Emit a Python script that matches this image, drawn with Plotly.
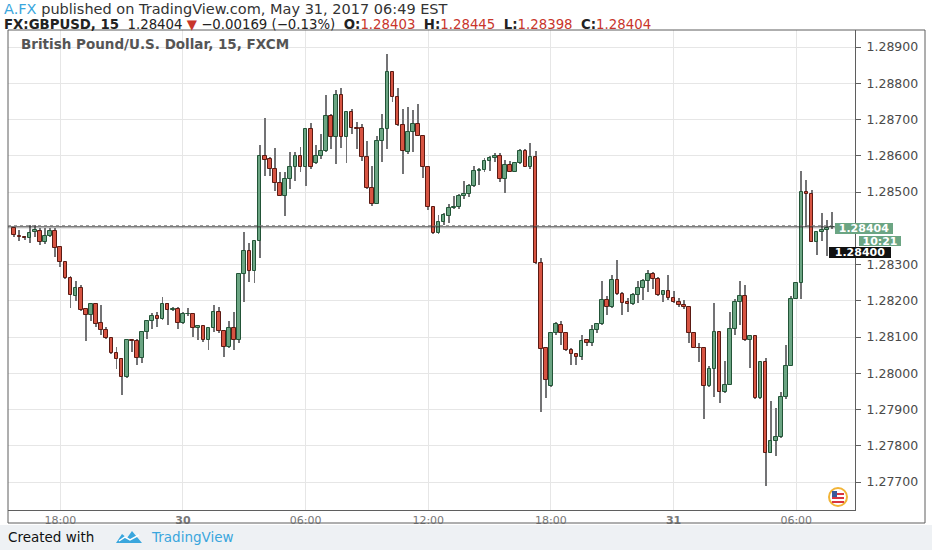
import pandas as pd
import plotly.graph_objects as go

# 15-minute GBPUSD candles, first bar 2017-05-29 15:45
start = "2017-05-29 15:45"

opens = [
    1.28400, 1.28379, 1.28376, 1.28372, 1.28391, 1.28393, 1.28361, 1.28378, 1.28393, 1.28348,
    1.28307, 1.28262, 1.28214, 1.28234, 1.28177, 1.28160, 1.28192, 1.28138, 1.28120, 1.28098,
    1.28055, 1.28040, 1.27989, 1.28092, 1.28090, 1.28041, 1.28113, 1.28143, 1.28158, 1.28149,
    1.28192, 1.28175, 1.28178, 1.28138, 1.28164, 1.28165, 1.28124, 1.28130, 1.28092, 1.28124,
    1.28170, 1.28118, 1.28074, 1.28126, 1.28092, 1.28275, 1.28338, 1.28281, 1.28364, 1.28599,
    1.28591, 1.28563, 1.28526, 1.28489, 1.28536, 1.28568, 1.28600, 1.28568, 1.28673, 1.28580,
    1.28600, 1.28613, 1.28709, 1.28652, 1.28769, 1.28652, 1.28721, 1.28677, 1.28677, 1.28596,
    1.28510, 1.28466, 1.28642, 1.28673, 1.28830, 1.28763, 1.28686, 1.28610, 1.28665, 1.28689,
    1.28656, 1.28568, 1.28459, 1.28387, 1.28417, 1.28435, 1.28456, 1.28458, 1.28489, 1.28496,
    1.28517, 1.28558, 1.28560, 1.28586, 1.28595, 1.28600, 1.28537, 1.28574, 1.28556, 1.28580,
    1.28614, 1.28570, 1.28598, 1.28304, 1.28070, 1.27966, 1.28111, 1.28133, 1.28110, 1.28064,
    1.28053, 1.28044, 1.28092, 1.28084, 1.28119, 1.28136, 1.28203, 1.28182, 1.28258, 1.28219,
    1.28198, 1.28191, 1.28217, 1.28235, 1.28254, 1.28275, 1.28260, 1.28215, 1.28226, 1.28207,
    1.28198, 1.28189, 1.28182, 1.28110, 1.28071, 1.28071, 1.27964, 1.28013, 1.28113, 1.27948,
    1.27968, 1.28121, 1.28198, 1.28212, 1.28092, 1.28103, 1.27931, 1.28031, 1.27781, 1.27812,
    1.27823, 1.27934, 1.28020, 1.28206, 1.28248, 1.28500, 1.28494, 1.28363, 1.28389, 1.28396,
    1.28403,
]
highs = [
    1.28402, 1.28394, 1.28380, 1.28409, 1.28409, 1.28400, 1.28402, 1.28402, 1.28402, 1.28350,
    1.28310, 1.28268, 1.28256, 1.28243, 1.28179, 1.28194, 1.28193, 1.28188, 1.28127, 1.28100,
    1.28074, 1.28042, 1.28094, 1.28094, 1.28094, 1.28115, 1.28145, 1.28167, 1.28170, 1.28210,
    1.28193, 1.28184, 1.28184, 1.28168, 1.28180, 1.28166, 1.28134, 1.28134, 1.28129, 1.28189,
    1.28184, 1.28120, 1.28145, 1.28168, 1.28276, 1.28390, 1.28360, 1.28367, 1.28630, 1.28703,
    1.28596, 1.28621, 1.28554, 1.28554, 1.28610, 1.28610, 1.28624, 1.28675, 1.28691, 1.28630,
    1.28661, 1.28768, 1.28716, 1.28781, 1.28788, 1.28723, 1.28730, 1.28693, 1.28689, 1.28640,
    1.28573, 1.28656, 1.28714, 1.28881, 1.28832, 1.28786, 1.28730, 1.28735, 1.28726, 1.28742,
    1.28658, 1.28573, 1.28461, 1.28438, 1.28443, 1.28466, 1.28489, 1.28494, 1.28531, 1.28521,
    1.28572, 1.28565, 1.28593, 1.28600, 1.28607, 1.28609, 1.28589, 1.28586, 1.28581, 1.28620,
    1.28619, 1.28635, 1.28614, 1.28318, 1.28072, 1.28114, 1.28142, 1.28143, 1.28112, 1.28071,
    1.28055, 1.28106, 1.28094, 1.28133, 1.28140, 1.28256, 1.28212, 1.28272, 1.28312, 1.28223,
    1.28207, 1.28221, 1.28256, 1.28260, 1.28284, 1.28279, 1.28265, 1.28230, 1.28272, 1.28226,
    1.28207, 1.28201, 1.28184, 1.28112, 1.28084, 1.28073, 1.28020, 1.28195, 1.28115, 1.28034,
    1.28168, 1.28205, 1.28254, 1.28244, 1.28105, 1.28105, 1.28034, 1.28041, 1.27925, 1.27905,
    1.27948, 1.28078, 1.28213, 1.28250, 1.28557, 1.28532, 1.28505, 1.28391, 1.28443, 1.28424,
    1.28445,
]
lows = [
    1.28376, 1.28365, 1.28367, 1.28360, 1.28376, 1.28354, 1.28358, 1.28376, 1.28320, 1.28293,
    1.28259, 1.28179, 1.28199, 1.28171, 1.28088, 1.28144, 1.28129, 1.28105, 1.28096, 1.28053,
    1.28011, 1.27940, 1.27987, 1.28060, 1.28023, 1.28029, 1.28094, 1.28122, 1.28129, 1.28146,
    1.28134, 1.28173, 1.28122, 1.28136, 1.28157, 1.28101, 1.28092, 1.28087, 1.28063, 1.28115,
    1.28112, 1.28044, 1.28069, 1.28063, 1.28083, 1.28198, 1.28253, 1.28250, 1.28318, 1.28545,
    1.28545, 1.28503, 1.28489, 1.28433, 1.28508, 1.28531, 1.28554, 1.28517, 1.28563, 1.28577,
    1.28591, 1.28611, 1.28619, 1.28577, 1.28621, 1.28580, 1.28661, 1.28619, 1.28587, 1.28508,
    1.28461, 1.28466, 1.28582, 1.28619, 1.28749, 1.28682, 1.28549, 1.28605, 1.28610, 1.28656,
    1.28540, 1.28450, 1.28385, 1.28385, 1.28410, 1.28415, 1.28454, 1.28452, 1.28481, 1.28487,
    1.28515, 1.28519, 1.28554, 1.28558, 1.28582, 1.28528, 1.28498, 1.28554, 1.28554, 1.28577,
    1.28568, 1.28563, 1.28302, 1.27892, 1.27933, 1.27961, 1.28107, 1.28078, 1.28062, 1.28022,
    1.28022, 1.28036, 1.28075, 1.28075, 1.28112, 1.28133, 1.28161, 1.28180, 1.28217, 1.28161,
    1.28170, 1.28189, 1.28195, 1.28203, 1.28223, 1.28232, 1.28212, 1.28198, 1.28203, 1.28195,
    1.28184, 1.28177, 1.28084, 1.28069, 1.28031, 1.27874, 1.27962, 1.27934, 1.27918, 1.27946,
    1.27967, 1.28106, 1.28133, 1.28090, 1.28016, 1.27930, 1.27930, 1.27689, 1.27779, 1.27772,
    1.27821, 1.27930, 1.28020, 1.28204, 1.28204, 1.28403, 1.28361, 1.28326, 1.28366, 1.28324,
    1.28398,
]
closes = [
    1.28382, 1.28376, 1.28372, 1.28388, 1.28396, 1.28361, 1.28378, 1.28393, 1.28347, 1.28308,
    1.28264, 1.28217, 1.28234, 1.28175, 1.28160, 1.28192, 1.28136, 1.28120, 1.28098, 1.28055,
    1.28039, 1.27989, 1.28092, 1.28090, 1.28041, 1.28113, 1.28143, 1.28158, 1.28149, 1.28192,
    1.28175, 1.28178, 1.28138, 1.28164, 1.28165, 1.28124, 1.28130, 1.28092, 1.28124, 1.28170,
    1.28118, 1.28074, 1.28126, 1.28092, 1.28275, 1.28338, 1.28281, 1.28364, 1.28600, 1.28589,
    1.28563, 1.28526, 1.28489, 1.28536, 1.28568, 1.28600, 1.28568, 1.28673, 1.28568, 1.28600,
    1.28613, 1.28709, 1.28652, 1.28769, 1.28652, 1.28721, 1.28677, 1.28673, 1.28596, 1.28510,
    1.28466, 1.28642, 1.28673, 1.28830, 1.28763, 1.28686, 1.28613, 1.28665, 1.28689, 1.28656,
    1.28568, 1.28459, 1.28387, 1.28417, 1.28438, 1.28456, 1.28458, 1.28489, 1.28496, 1.28517,
    1.28558, 1.28560, 1.28586, 1.28595, 1.28600, 1.28537, 1.28574, 1.28556, 1.28580, 1.28614,
    1.28570, 1.28598, 1.28304, 1.28068, 1.27981, 1.28111, 1.28135, 1.28110, 1.28064, 1.28053,
    1.28044, 1.28090, 1.28084, 1.28119, 1.28136, 1.28203, 1.28182, 1.28258, 1.28219, 1.28195,
    1.28191, 1.28217, 1.28235, 1.28254, 1.28275, 1.28260, 1.28215, 1.28226, 1.28207, 1.28198,
    1.28189, 1.28182, 1.28110, 1.28071, 1.28070, 1.27964, 1.28013, 1.28113, 1.27948, 1.27968,
    1.28121, 1.28198, 1.28212, 1.28092, 1.28103, 1.27931, 1.28031, 1.27781, 1.27812, 1.27823,
    1.27934, 1.28020, 1.28206, 1.28248, 1.28500, 1.28494, 1.28363, 1.28389, 1.28396, 1.28400,
    1.28404,
]

time_ticks = ["2017-05-29 18:00", "2017-05-30 00:00", "2017-05-30 06:00", "2017-05-30 12:00",
              "2017-05-30 18:00", "2017-05-31 00:00", "2017-05-31 06:00"]
time_labels = ["18:00", "<b>30</b>", "06:00", "12:00", "18:00", "<b>31</b>", "06:00"]
price_ticks = [1.277, 1.278, 1.279, 1.280, 1.281, 1.282, 1.283, 1.284, 1.285, 1.286, 1.287, 1.288, 1.289]

last_price = 1.28404

times = pd.date_range(start, periods=len(opens), freq="15min")

UP_FILL, UP_LINE = "#6ba583", "#225437"
DN_FILL, DN_LINE = "#d75442", "#5b1a13"
WICK = "#737375"

# plot area in pixels (932x550 page)
L, R, T, B = 8, 855, 30, 510


def px(x):
    return (x - L) / (R - L)


def py(y):
    return (B - y) / (B - T)


up = [c >= o for o, c in zip(opens, closes)]
body_base = [min(o, c) for o, c in zip(opens, closes)]
body_h = [max(abs(c - o), 0.000008) for o, c in zip(opens, closes)]
wick_h = [h - l for h, l in zip(highs, lows)]

fig = go.Figure()

# wicks
fig.add_trace(go.Bar(
    x=times, y=wick_h, base=lows, width=170000,
    marker=dict(color=WICK, line=dict(width=0)),
    hoverinfo="skip", showlegend=False,
))
# bodies
fig.add_trace(go.Bar(
    x=times, y=body_h, base=body_base, width=640000,
    marker=dict(color=[UP_FILL if u else DN_FILL for u in up],
                line=dict(color=[UP_LINE if u else DN_LINE for u in up], width=1)),
    customdata=list(zip(opens, highs, lows, closes)),
    hovertemplate="O %{customdata[0]:.5f}<br>H %{customdata[1]:.5f}<br>"
                  "L %{customdata[2]:.5f}<br>C %{customdata[3]:.5f}<extra></extra>",
    showlegend=False,
))

x_left = pd.Timestamp(start) - pd.Timedelta(minutes=18.5)
x_right = pd.Timestamp(start) + pd.Timedelta(minutes=15 * 164.5)

red = "#c8352b"
header2 = (
    "<b>FX:GBPUSD, 15</b>  1.28404 <span style='color:%s'>▼</span> −0.00169 (−0.13%%)  "
    "<b>O:</b><span style='color:%s'>1.28403</span>  <b>H:</b><span style='color:%s'>1.28445</span>  "
    "<b>L:</b><span style='color:%s'>1.28398</span>  <b>C:</b><span style='color:%s'>1.28404</span>"
) % (red, red, red, red, red)

tag = dict(xref="paper", yref="paper", showarrow=False, borderwidth=0, borderpad=1,
           font=dict(size=11, color="white"))

annotations = [
    dict(x=px(2), y=py(9), xref="paper", yref="paper", xanchor="left", yanchor="middle",
         showarrow=False, font=dict(size=14.5, color="#333"),
         text="<span style='color:#3aa6dd'>A.FX</span> published on TradingView.com, May 31, 2017 06:49 EST"),
    dict(x=px(2), y=py(24), xref="paper", yref="paper", xanchor="left", yanchor="middle",
         showarrow=False, font=dict(size=13.3, color="#222"), text=header2),
    dict(x=px(19), y=py(44), xref="paper", yref="paper", xanchor="left", yanchor="middle",
         showarrow=False, font=dict(size=13.5, color="#555"),
         text="<b>British Pound/U.S. Dollar, 15, FXCM</b>"),
    # price scale tags
    dict(tag, x=px(893), y=py(228.5), text="<b>1.28404</b>", bgcolor=UP_FILL, width=56, height=9),
    dict(tag, x=px(901), y=py(241), text="<b>10:21</b>", bgcolor=UP_FILL, width=40, height=8),
    dict(tag, x=px(891), y=py(252), text="<b>1.28400</b>", bgcolor="#111111", width=60, height=9),
    # footer
    dict(x=px(6), y=py(537), xref="paper", yref="paper", xanchor="left", yanchor="middle",
         showarrow=False, font=dict(size=13.5, color="#111"), text="Created with"),
    dict(x=px(149), y=py(537), xref="paper", yref="paper", xanchor="left", yanchor="middle",
         showarrow=False, font=dict(size=13.5, color="#3aa6dd"), text="TradingView"),
]


def path_of(points):
    return "M " + " L ".join("%f,%f" % (px(a), py(b)) for a, b in points) + " Z"


shapes = [
    # light footer band
    dict(type="rect", xref="paper", yref="paper", x0=px(0), x1=px(932), y0=py(550), y1=py(525),
         fillcolor="#eef1f4", line=dict(width=0), layer="below"),
    # outer chart frame
    dict(type="rect", xref="paper", yref="paper", x0=px(8), x1=px(925), y0=py(523), y1=py(30),
         line=dict(color="#5f5f5f", width=1)),
    # last price line
    dict(type="line", xref="paper", yref="y", x0=0, x1=1, y0=last_price, y1=last_price,
         line=dict(color="#333", width=1)),
    dict(type="line", xref="paper", yref="y", x0=0, x1=1, y0=last_price + 0.00003, y1=last_price + 0.00003,
         line=dict(color="#777", width=1, dash="dot")),
    # logo
    dict(type="path", xref="paper", yref="paper",
         path=path_of([(116, 543), (122, 534), (127, 538), (132, 531), (142, 543)]),
         fillcolor="#3aa6dd", line=dict(width=0)),
    dict(type="path", xref="paper", yref="paper",
         path="M %f,%f L %f,%f L %f,%f L %f,%f" % (px(119), py(541), px(125), py(537), px(130), py(540), px(139), py(535)),
         line=dict(color="white", width=1.5)),
    # flag badge
    dict(type="circle", xref="paper", yref="paper", x0=px(829), x1=px(847), y0=py(506), y1=py(488),
         fillcolor="white", line=dict(color="#f2b437", width=2)),
]
for yy in (494, 498, 502):
    shapes.append(dict(type="line", xref="paper", yref="paper", x0=px(832), x1=px(844), y0=py(yy), y1=py(yy),
                       line=dict(color="#d9363e", width=2)))
shapes.append(dict(type="rect", xref="paper", yref="paper", x0=px(832), x1=px(837), y0=py(497), y1=py(491),
                   fillcolor="#3c5a9a", line=dict(width=0)))

fig.update_layout(
    width=932, height=550,
    margin=dict(l=L, r=932 - R, t=T, b=550 - B),
    paper_bgcolor="white", plot_bgcolor="white",
    barmode="overlay", bargap=0,
    font=dict(family="DejaVu Sans, Verdana, sans-serif"),
    showlegend=False,
    annotations=annotations,
    shapes=shapes,
    xaxis=dict(
        type="date", range=[x_left, x_right],
        tickvals=time_ticks, ticktext=time_labels,
        showgrid=True, gridcolor="#e6e6e6", gridwidth=1,
        showline=True, linecolor="#5f5f5f", linewidth=1,
        ticks="", tickfont=dict(size=11, color="#777"),
        zeroline=False, fixedrange=True,
    ),
    yaxis=dict(
        side="right", range=[1.27623, 1.28947],
        tickvals=price_ticks,
        # the 1.28400 label sits under the last-price tag
        ticktext=["" if abs(v - 1.284) < 1e-9 else "%.5f" % v for v in price_ticks],
        showgrid=True, gridcolor="#e6e6e6", gridwidth=1,
        showline=True, linecolor="#5f5f5f", linewidth=1,
        ticks="outside", ticklen=5, tickcolor="#5f5f5f",
        tickfont=dict(size=12.5, color="#4a4a4a"),
        ticklabelstandoff=3,
        zeroline=False, fixedrange=True,
    ),
)

fig.write_html("out.html", config={"displayModeBar": False},
               post_script="document.body.style.margin='0px';")
